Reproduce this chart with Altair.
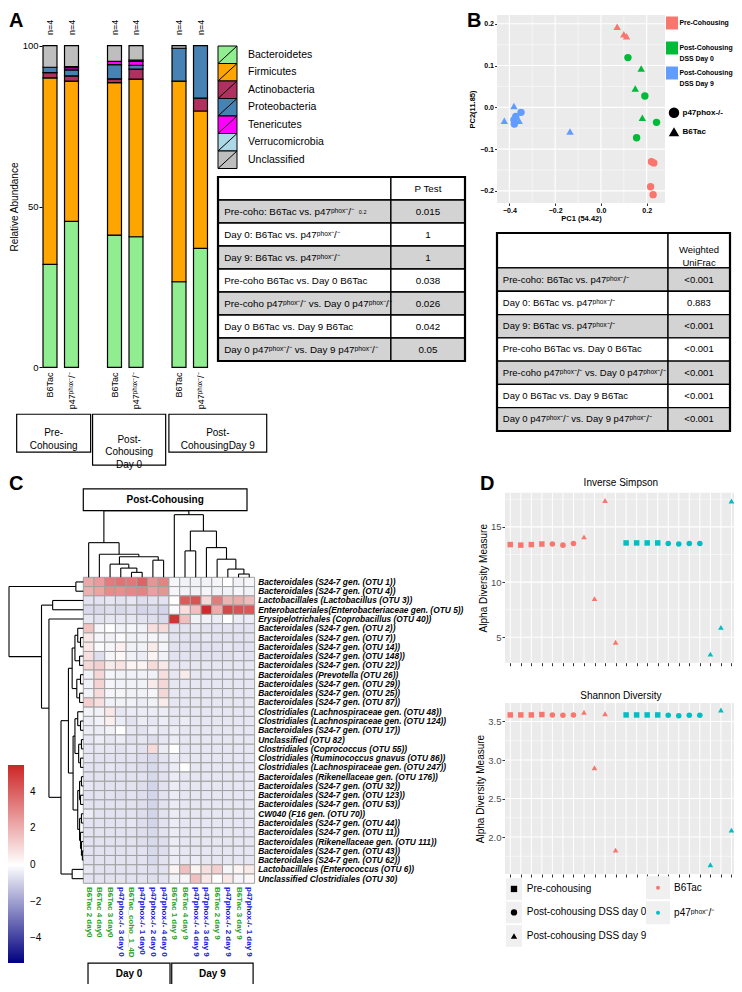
import altair as alt
import pandas as pd

FONT = "Liberation Sans"
W, H, M = 726, 976, 8

# ============================ DATA ============================
# ---- Panel A : relative abundance (%), one value per bar ----
phyla = ["Bacteroidetes", "Firmicutes", "Actinobacteria", "Proteobacteria",
         "Tenericutes", "Verrucomicrobia", "Unclassified"]
phyla_colors = ["#90EE90", "#FFA500", "#B03060", "#4682B4", "#FF00FF", "#ADD8E6", "#BEBEBE"]
bar_keys = ["pre_B6", "pre_p47", "d0_B6", "d0_p47", "d9_B6", "d9_p47"]
bar_names = ["B6Tac", "p47ᵖʰᵒˣ⁻/⁻", "B6Tac", "p47ᵖʰᵒˣ⁻/⁻", "B6Tac", "p47ᵖʰᵒˣ⁻/⁻"]
bar_n = ["n=4", "n=4", "n=4", "n=4", "n=4", "n=4"]
bacteroidetes = [32.0, 45.4, 41.1, 40.6, 26.6, 37.0]
firmicutes = [58.0, 43.6, 47.4, 49.0, 62.4, 42.7]
actinobacteria = [1.6, 1.6, 1.2, 3.1, 0.0, 4.0]
proteobacteria = [1.7, 1.9, 4.4, 1.2, 10.2, 16.3]
tenericutes = [0.0, 0.7, 1.0, 1.2, 0.0, 0.0]
verrucomicrobia = [0.0, 0.3, 0.0, 0.4, 0.0, 0.0]
unclassified = [6.7, 6.5, 4.9, 4.5, 0.8, 0.0]
group_labels = ["Pre-\nCohousing", "Post-\nCohousing\nDay 0", "Post-\nCohousingDay 9"]

comparisons = ["Pre-coho: B6Tac vs. p47ᵖʰᵒˣ⁻/⁻",
               "Day 0: B6Tac vs. p47ᵖʰᵒˣ⁻/⁻",
               "Day 9: B6Tac vs. p47ᵖʰᵒˣ⁻/⁻",
               "Pre-coho B6Tac vs. Day 0 B6Tac",
               "Pre-coho p47ᵖʰᵒˣ⁻/⁻ vs. Day 0 p47ᵖʰᵒˣ⁻/⁻",
               "Day 0 B6Tac vs. Day 9 B6Tac",
               "Day 0 p47ᵖʰᵒˣ⁻/⁻ vs. Day 9 p47ᵖʰᵒˣ⁻/⁻"]
p_test = ["0.015", "1", "1", "0.038", "0.026", "0.042", "0.05"]
weighted_unifrac = ["<0.001", "0.883", "<0.001", "<0.001", "<0.001", "<0.001", "<0.001"]

# ---- Panel B : PCoA ----
pc_groups = ["Pre-Cohousing", "Post-Cohousing|DSS Day 0", "Post-Cohousing|DSS Day 9"]
pc_group_colors = ["#F8766D", "#00BA38", "#619CFF"]
pc_genos = ["p47phox-/-", "B6Tac"]
pc1 = [0.071, 0.100, 0.112, 0.221, 0.231, 0.217, 0.228,
       0.118, 0.192, 0.243, 0.156, 0.176, 0.150, 0.181,
       -0.380, -0.422, -0.357, -0.135, -0.349, -0.380, -0.378, -0.372]
pc2 = [0.193, 0.175, 0.170, -0.130, -0.133, -0.190, -0.209,
       0.119, 0.027, -0.036, -0.073, 0.093, 0.045, -0.025,
       0.003, -0.032, -0.032, -0.058, -0.012, -0.030, -0.040, -0.022]
pc_group = [pc_groups[0]] * 7 + [pc_groups[1]] * 7 + [pc_groups[2]] * 8
pc_geno = (["B6Tac"] * 3 + ["p47phox-/-"] * 4 + ["p47phox-/-"] * 4 + ["B6Tac"] * 3
           + ["B6Tac"] * 4 + ["p47phox-/-"] * 4)

# ---- Panel C : heatmap ----
heat_cols = ["B6Tac 2 day0", "B6Tac 4 day0", "B6Tac 3 day0", "p47phox-/- 3 day 0",
             "B6Tac_coho_1_4D", "p47phox-/- 1 day0", "p47phox-/- 2 day 0", "p47phox-/- 4 day 0",
             "B6Tac 1 day 9", "B6Tac 4 day 9", "p47phox-/- 4 day 9", "p47phox-/- 3 day 9",
             "B6Tac 2 day 9", "p47phox-/- 2 day 9", "B6Tac 3 day 9", "p47phox-/- 1 day 9"]
heat_rows = ["Bacteroidales (S24-7 gen. (OTU 1))", "Bacteroidales (S24-7 gen. (OTU 4))",
             "Lactobacillales (Lactobacillus (OTU 3))",
             "Enterobacteriales(Enterobacteriaceae gen. (OTU 5))",
             "Erysipelotrichales (Coprobacillus (OTU 40))",
             "Bacteroidales (S24-7 gen. (OTU 2))", "Bacteroidales (S24-7 gen. (OTU 7))",
             "Bacteroidales (S24-7 gen. (OTU 14))", "Bacteroidales (S24-7 gen. (OTU 148))",
             "Bacteroidales (S24-7 gen. (OTU 22))", "Bacteroidales (Prevotella (OTU 26))",
             "Bacteroidales (S24-7 gen. (OTU 29))", "Bacteroidales (S24-7 gen. (OTU 25))",
             "Bacteroidales (S24-7 gen. (OTU 87))",
             "Clostridiales (Lachnospiraceae gen. (OTU 48))",
             "Clostridiales (Lachnospiraceae gen. (OTU 124))",
             "Bacteroidales (S24-7 gen. (OTU 17))", "Unclassified (OTU 82)",
             "Clostridiales (Coprococcus (OTU 55))",
             "Clostridiales (Ruminococcus gnavus (OTU 86))",
             "Clostridiales (Lachnospiraceae gen. (OTU 247))",
             "Bacteroidales (Rikenellaceae gen. (OTU 176))",
             "Bacteroidales (S24-7 gen. (OTU 32))", "Bacteroidales (S24-7 gen. (OTU 123))",
             "Bacteroidales (S24-7 gen. (OTU 53))", "CW040 (F16 gen. (OTU 70))",
             "Bacteroidales (S24-7 gen. (OTU 44))", "Bacteroidales (S24-7 gen. (OTU 11))",
             "Bacteroidales (Rikenellaceae gen. (OTU 111))",
             "Bacteroidales (S24-7 gen. (OTU 43))", "Bacteroidales (S24-7 gen. (OTU 62))",
             "Lactobacillales (Enterococcus (OTU 6))", "Unclassified Clostridiales (OTU 30)"]
heat_values = [
    [2.2, 2.5, 3.3, 3.5, 3.4, 3.9, 2.7, 3.1, -0.2, -0.3, -0.3, -0.3, -0.2, 0.0, -0.3, -0.2],
    [2.0, 2.3, 2.9, 2.8, 3.0, 3.1, 2.4, 2.7, -0.2, -0.3, -0.3, -0.2, -0.3, -0.3, -0.2, -0.3],
    [-0.6, -0.6, -0.5, -0.6, -0.5, -0.7, -0.6, -0.6, 0.0, 4.1, 4.3, 1.0, 3.3, 1.9, 2.1, 1.7],
    [-0.8, -0.8, -0.7, -0.8, -0.7, -0.9, -0.8, -0.9, -0.1, 0.8, 1.6, 5.3, 2.1, 4.6, 4.3, 4.2],
    [-0.5, -0.6, -0.5, -0.5, -0.5, -0.6, -0.7, -0.8, 5.1, 1.6, -0.3, -0.3, -0.4, 0.0, -0.4, -0.4],
    [1.5, -0.2, 0.0, -0.3, -0.2, -0.3, 0.8, 0.9, -0.6, -0.6, -0.5, -0.6, -0.6, -0.6, -0.6, -0.6],
    [0.6, -0.2, -0.3, -0.1, -0.3, -0.3, -0.2, -0.3, -0.6, -0.6, -0.6, -0.5, -0.6, -0.6, -0.6, -0.6],
    [0.6, -0.1, -0.2, 0.4, -0.3, -0.3, 0.5, -0.2, -0.6, -0.6, -0.6, -0.6, -0.6, -0.5, -0.6, -0.6],
    [0.8, -0.7, -0.2, 0.2, -0.3, -0.4, 0.3, -0.3, -0.6, -0.6, -0.6, -0.6, -0.6, -0.6, -0.5, -0.6],
    [1.0, 1.2, 0.5, 0.7, 0.3, 0.3, 0.9, 0.6, -0.5, -0.5, -0.5, -0.5, -0.5, -0.5, -0.5, -0.5],
    [-0.3, 1.0, -0.2, -0.3, -0.3, -0.3, -0.3, 0.8, -0.5, 0.5, -0.5, -0.5, -0.5, -0.5, -0.5, -0.5],
    [-0.3, 1.1, -0.2, -0.3, -0.3, -0.3, 0.5, 1.0, -0.5, -0.5, -0.5, -0.5, -0.5, -0.5, -0.5, -0.5],
    [-0.3, 0.9, -0.2, -0.2, -0.3, -0.3, -0.2, 1.0, -0.5, -0.5, -0.5, -0.5, -0.5, -0.5, -0.5, -0.5],
    [1.2, 0.8, -0.3, -0.3, -0.3, -0.4, -0.3, 0.5, -0.5, -0.5, -0.5, -0.5, -0.5, -0.5, -0.5, -0.5],
    [-0.3, -0.3, 0.6, -0.5, -0.4, -0.4, -0.4, -0.4, -0.5, -0.5, -0.5, -0.5, -0.5, -0.5, -0.5, -0.5],
    [-0.4, -0.3, 0.4, -0.4, -0.6, -0.4, -0.5, -0.4, -0.5, -0.4, -0.5, -0.5, -0.5, -0.5, -0.5, -0.5],
    [-0.4, -0.4, -0.3, 0.0, -0.5, -0.6, -0.4, -0.5, -0.4, -0.5, -0.5, -0.5, -0.5, -0.5, -0.5, -0.5],
    [-0.5, -0.4, -0.5, -0.4, -0.6, -0.5, -0.7, -0.5, -0.4, -0.5, -0.5, -0.5, -0.5, -0.5, -0.5, -0.5],
    [-0.5, -0.5, -0.5, -0.6, -0.5, -0.6, 0.9, -0.4, 0.0, -0.5, -0.5, -0.5, -0.5, -0.5, -0.5, -0.5],
    [-0.5, -0.6, -0.6, -0.6, -0.6, -0.7, -0.8, -0.6, -0.4, -0.5, -0.5, -0.5, -0.5, -0.5, -0.5, -0.5],
    [-0.6, -0.6, -0.5, -0.6, -0.6, -0.7, -0.8, -0.6, -0.4, 0.0, -0.5, -0.5, -0.5, -0.5, -0.5, -0.5],
    [-0.6, -0.6, -0.6, -0.6, -0.6, -0.6, -0.8, -0.6, -0.4, -0.5, -0.5, -0.5, -0.5, -0.5, -0.5, -0.5],
    [-0.5, -0.6, -0.6, -0.6, -0.6, -0.7, -0.9, -0.6, -0.4, -0.5, -0.5, -0.5, -0.5, -0.5, -0.5, -0.5],
    [-0.6, -0.6, -0.6, -0.7, -0.6, -0.7, -0.9, -0.6, -0.4, -0.5, -0.5, -0.5, -0.5, -0.5, -0.5, -0.5],
    [-0.6, -0.6, -0.6, -0.6, -0.6, -0.7, -0.9, -0.6, -0.4, -0.5, -0.5, -0.5, -0.5, -0.5, -0.5, -0.5],
    [-0.4, -0.6, -0.6, -0.6, -0.6, -0.7, -0.9, -0.6, -0.4, -0.5, -0.5, -0.5, -0.5, -0.5, -0.5, -0.5],
    [-0.6, -0.6, -0.6, -0.6, -0.5, -0.7, -0.9, -0.6, -0.4, -0.5, -0.5, -0.5, -0.5, -0.5, -0.5, -0.5],
    [-0.6, -0.6, -0.6, -0.6, -0.6, -0.7, -0.8, -0.6, -0.4, -0.5, -0.5, -0.5, -0.5, -0.5, -0.5, -0.5],
    [-0.6, -0.6, -0.6, -0.6, -0.6, -0.7, -0.8, -0.7, -0.4, -0.5, -0.5, -0.5, -0.5, -0.5, -0.5, -0.5],
    [-0.6, -0.6, -0.6, -0.6, -0.6, -0.6, -0.8, -0.7, -0.4, -0.5, -0.5, -0.5, -0.5, -0.5, -0.5, -0.5],
    [-0.6, -0.6, -0.6, -0.6, -0.6, -0.6, -0.8, -0.6, -0.4, -0.5, -0.4, -0.5, -0.5, -0.5, -0.5, -0.5],
    [-0.5, -0.6, -0.6, -0.6, -0.6, -0.6, -0.7, -0.6, 0.3, 1.6, 0.3, 0.8, 1.2, -0.2, 0.3, 0.5],
    [-0.6, -0.6, -0.6, -0.6, -0.6, -0.6, -0.7, -0.6, -0.3, -0.2, 1.6, 0.6, 0.0, 0.6, -0.2, 0.2],
]
# hierarchical clustering: (left, right, merge height)
_c_v = (4, 5, 5.0)
_c_w = (3, _c_v, 9.3)
_c_z = (2, _c_w, 13.3)
_c_67 = (6, 7, 17.3)
_c_y = (_c_z, _c_67, 20.7)
_c_x = (1, _c_y, 23.3)
_c_day0 = (0, _c_x, 35.0)
_c_e = (14, 15, 3.3)
_c_d = (13, _c_e, 8.3)
_c_c = (12, _c_d, 18.3)
_c_b = (11, _c_c, 30.0)
_c_a = (9, 10, 26.7)
_c_rest = (_c_a, _c_b, 46.7)
_c_day9 = (8, _c_rest, 63.3)
col_tree = (_c_day0, _c_day9, 67.3)

_t1 = ((5, (6, 7, 3), 6), (8, 9, 4), 9)
_t2 = ((10, 11, 3), (12, 13, 4), 7)
_t3 = (14, (15, 16, 3), 6)
_t4 = ((17, 18, 2), (19, 20, 3), 5)
_t5 = ((21, 22, 2), (23, 24, 3), 4)
_t6 = ((25, 26, 2), (27, (28, (29, 30, 1), 2), 3), 4)
_r_t = ((_t1, _t2, 12), ((_t3, _t4, 9), (_t5, _t6, 6), 11), 16)
_r_s = (_r_t, (31, 32, 12), 24)
_r_r = (4, _r_s, 37)
_r_q = ((2, 3, 33), _r_r, 45)
row_tree = ((0, 1, 8), _r_q, 80)

# ---- Panel D : alpha diversity ----
genos_d = ["B6Tac", "p47ᵖʰᵒˣ⁻/⁻"]
d_geno = [genos_d[0]] * 11 + [genos_d[1]] * 11
phases = ["Pre-cohousing", "Post-cohousing DSS day 0", "Post-cohousing DSS day 9"]
d_phase = ([phases[0]] * 4 + [phases[1]] * 3 + [phases[2]] * 4
           + [phases[0]] * 4 + [phases[1]] * 4 + [phases[2]] * 3)
inv_simpson = [13.4, 13.35, 13.4, 13.45, 13.45, 13.35, 13.5, 14.1, 8.5, 17.4, 4.55,
               13.55, 13.55, 13.55, 13.55, 13.5, 13.45, 13.5, 13.5, 3.48, 5.9, 17.35]
shannon = [3.585, 3.585, 3.585, 3.59, 3.585, 3.58, 3.585, 3.62, 2.9, 3.6, 1.83,
           3.585, 3.585, 3.585, 3.585, 3.58, 3.575, 3.58, 3.58, 1.64, 3.65, 2.09]

# ============================ HELPERS ============================
def P(v):
    return v - M


def lin(domain, lo, hi):
    return alt.Scale(domain=domain, range=[P(lo), P(hi)], nice=False, zero=False)


def band(domain, lo, hi, inner=0.0, outer=0.0):
    return alt.Scale(domain=domain, range=[P(lo), P(hi)], paddingInner=inner, paddingOuter=outer)


def texts(df, xs, ys, **mk):
    mk.setdefault("font", FONT)
    return alt.Chart(df).mark_text(**mk).encode(
        x=alt.X("x:Q", scale=xs, axis=None),
        y=alt.Y("y:Q", scale=ys, axis=None),
        text=alt.Text("t:N"))


def rects(df, xs, ys, **mk):
    return alt.Chart(df).mark_rect(**mk).encode(
        x=alt.X("x0:Q", scale=xs, axis=None), x2="x1:Q",
        y=alt.Y("y0:Q", scale=ys, axis=None), y2="y1:Q")


def segs(df, xs, ys, **mk):
    return alt.Chart(df).mark_rule(**mk).encode(
        x=alt.X("x0:Q", scale=xs, axis=None), x2="x1:Q",
        y=alt.Y("y0:Q", scale=ys, axis=None), y2="y1:Q")


def dendro(tree):
    out = []

    def rec(n):
        if isinstance(n, int):
            return n + 0.5, 0.0
        a, b, h = n
        pa, ha = rec(a)
        pb, hb = rec(b)
        out.append((pa, ha, pa, h))
        out.append((pb, hb, pb, h))
        out.append((pa, h, pb, h))
        return (pa + pb) / 2, h

    rec(tree)
    return pd.DataFrame(out, columns=["p0", "h0", "p1", "h1"])


def grid(xs, ys, xlo, xhi, ylo, yhi, xv, xw, yv, yw):
    v = pd.DataFrame({"x0": xv, "x1": xv, "y0": ylo, "y1": yhi, "w": xw})
    h = pd.DataFrame({"x0": xlo, "x1": xhi, "y0": yv, "y1": yv, "w": yw})
    df = pd.concat([v, h], ignore_index=True)
    return alt.Chart(df).mark_rule(color="white").encode(
        x=alt.X("x0:Q", scale=xs, axis=None), x2="x1:Q",
        y=alt.Y("y0:Q", scale=ys, axis=None), y2="y1:Q",
        strokeWidth=alt.StrokeWidth("w:Q", scale=None))


def table(labels, values, head, x_lo, x_hi, y_lo, y_hi, split, head_units, fs=9):
    n = len(labels)
    xs = lin([0, 1], x_lo, x_hi)
    ys = lin([0, head_units + n], y_lo, y_hi)
    cells = [dict(x0=0, x1=split, y0=0, y1=head_units, fill="white"),
             dict(x0=split, x1=1, y0=0, y1=head_units, fill="white")]
    for i in range(n):
        f = "#D3D3D3" if i % 2 == 0 else "white"
        y0 = head_units + i
        cells.append(dict(x0=0, x1=split, y0=y0, y1=y0 + 1, fill=f))
        cells.append(dict(x0=split, x1=1, y0=y0, y1=y0 + 1, fill=f))
    cdf = pd.DataFrame(cells)
    cell_layer = alt.Chart(cdf).mark_rect(stroke="black", strokeWidth=1.3).encode(
        x=alt.X("x0:Q", scale=xs, axis=None), x2="x1:Q",
        y=alt.Y("y0:Q", scale=ys, axis=None), y2="y1:Q",
        fill=alt.Fill("fill:N", scale=None))
    border = rects(pd.DataFrame([dict(x0=0, x1=1, y0=0, y1=head_units + n)]), xs, ys,
                   filled=False, stroke="black", strokeWidth=2.2)
    yy = [head_units + i + 0.5 for i in range(n)]
    lab = texts(pd.DataFrame({"x": 0.025, "y": yy, "t": labels}), xs, ys,
                align="left", baseline="middle", fontSize=fs)
    val = texts(pd.DataFrame({"x": (split + 1) / 2, "y": yy, "t": values}), xs, ys,
                align="center", baseline="middle", fontSize=fs)
    hd = texts(pd.DataFrame({"x": [(split + 1) / 2], "y": [head_units / 2], "t": [head]}), xs, ys,
               align="center", baseline="middle", fontSize=fs, lineBreak="\n",
               lineHeight=12.5)
    return [cell_layer, border, lab, val, hd], xs, ys


L = []

# ============================ PANEL A ============================
slot_domain = ["pre_B6", "pre_p47", "gap1", "d0_B6", "d0_p47", "gap2", "d9_B6", "d9_p47"]
slot_idx = [slot_domain.index(k) for k in bar_keys]
A_band = band(slot_domain, 39.25, 211.25, 0.35, 0.175)
A_y = lin([0, 100], 367.3, 45.7)
A_x = lin([0, 7], 50, 200.5)
phyla_scale = alt.Scale(domain=phyla, range=phyla_colors)
series = [bacteroidetes, firmicutes, actinobacteria, proteobacteria,
          tenericutes, verrucomicrobia, unclassified]
rows = []
for i, k in enumerate(bar_keys):
    base = 0.0
    for ph, s in zip(phyla, series):
        if s[i] > 0:
            rows.append({"bar": k, "phylum": ph, "lo": base, "hi": base + s[i]})
        base += s[i]
L.append(alt.Chart(pd.DataFrame(rows)).mark_bar(stroke="black", strokeWidth=1.2, opacity=1).encode(
    x=alt.X("bar:N", scale=A_band, axis=None),
    y=alt.Y("lo:Q", scale=A_y,
            axis=alt.Axis(orient="left", offset=-P(42), values=[0, 50, 100], domain=False,
                          grid=False, tickSize=3, tickColor="black", labelColor="black",
                          labelFontSize=9.5, labelPadding=1, title="Relative Abundance",
                          titleColor="black", titleFontSize=10, titleFontWeight="normal",
                          titlePadding=3)),
    y2="hi:Q",
    color=alt.Color("phylum:N", scale=phyla_scale, legend=None)))
L.append(texts(pd.DataFrame({"x": slot_idx, "y": 105.7, "t": bar_n}), A_x, A_y,
               angle=270, fontSize=9, align="center", baseline="middle"))
L.append(texts(pd.DataFrame({"x": slot_idx, "y": -1.6, "t": bar_names}), A_x, A_y,
               angle=270, fontSize=9, align="right", baseline="middle"))
gb = pd.DataFrame({"x0": [-1.55, 1.98, 5.53], "x1": [1.89, 5.38, 10.08],
                   "y0": [-14.6, -14.6, -14.6], "y1": [-26.4, -30.4, -26.4], "t": group_labels})
L.append(rects(gb, A_x, A_y, fill="white", stroke="black", strokeWidth=1.2))
gb["x"] = (gb.x0 + gb.x1) / 2
gb["y"] = (gb.y0 + gb.y1) / 2
L.append(texts(gb, A_x, A_y, lineBreak="\n", lineHeight=12.5, fontSize=10,
               align="center", baseline="middle"))

# legend of phyla (keys with a diagonal, as in the figure)
LA_x = lin([0, 1], 218, 237)
LA_y = lin([0, len(phyla)], 46, 168.5)
la = pd.DataFrame({"phylum": phyla, "x0": 0.0, "x1": 1.0,
                   "y0": [i for i in range(len(phyla))],
                   "y1": [i + 1 for i in range(len(phyla))]})
L.append(alt.Chart(la).mark_rect(stroke="black", strokeWidth=1).encode(
    x=alt.X("x0:Q", scale=LA_x, axis=None), x2="x1:Q",
    y=alt.Y("y0:Q", scale=LA_y, axis=None), y2="y1:Q",
    fill=alt.Fill("phylum:N", scale=phyla_scale, legend=None)))
L.append(segs(pd.DataFrame({"x0": 0.0, "x1": 1.0, "y0": la.y1, "y1": la.y0}), LA_x, LA_y,
              color="black", strokeWidth=1))
L.append(texts(pd.DataFrame({"x": 1.58, "y": la.y0 + 0.5, "t": phyla}), LA_x, LA_y,
               fontSize=10.5, align="left", baseline="middle"))

ta_layers, TA_x, TA_y = table(comparisons, p_test, "P Test", 218, 465, 177, 361, 0.7, 1, fs=9.8)
L.extend(ta_layers)
L.append(texts(pd.DataFrame({"x": [0.57], "y": [1.5], "t": ["0.2"]}), TA_x, TA_y,
               fontSize=5.5, align="left", baseline="middle"))

# ============================ PANEL B ============================
B_x = lin([-0.454, 0.28], 497, 665)
B_y = lin([-0.229, 0.221], 203, 15)
grp_scale = alt.Scale(domain=pc_groups, range=pc_group_colors)
geno_shape = alt.Scale(domain=pc_genos, range=["circle", "triangle-up"])
L.append(rects(pd.DataFrame([dict(x0=-0.454, x1=0.28, y0=-0.229, y1=0.221)]), B_x, B_y,
               fill="#EBEBEB"))
L.append(grid(B_x, B_y, -0.454, 0.28, -0.229, 0.221,
              [-0.4, -0.2, 0.0, 0.2, -0.3, -0.1, 0.1], [1.1, 1.1, 1.1, 1.1, 0.5, 0.5, 0.5],
              [-0.2, -0.1, 0.0, 0.1, 0.2, -0.15, -0.05, 0.05, 0.15],
              [1.1, 1.1, 1.1, 1.1, 1.1, 0.5, 0.5, 0.5, 0.5]))
pc_df = pd.DataFrame({"pc1": pc1, "pc2": pc2, "group": pc_group, "geno": pc_geno})
L.append(alt.Chart(pc_df).mark_point(filled=True, opacity=1, size=55).encode(
    x=alt.X("pc1:Q", scale=B_x,
            axis=alt.Axis(orient="bottom", offset=-(H - P(203)), values=[-0.4, -0.2, 0.0, 0.2],
                          format=".1f", domain=False, grid=False, tickSize=2.5,
                          tickColor="#333333", labelColor="black", labelFontSize=7,
                          labelFontWeight="bold", labelPadding=1, title="PC1 (54.42)",
                          titleFontSize=7.5, titleFontWeight="bold", titlePadding=1)),
    y=alt.Y("pc2:Q", scale=B_y,
            axis=alt.Axis(orient="left", offset=-P(497), values=[-0.2, -0.1, 0.0, 0.1, 0.2],
                          format=".1f", domain=False, grid=False, tickSize=2.5,
                          tickColor="#333333", labelColor="black", labelFontSize=7,
                          labelFontWeight="bold", labelPadding=1, title="PC2(11.85)",
                          titleFontSize=7.5, titleFontWeight="bold", titlePadding=3)),
    color=alt.Color("group:N", scale=grp_scale, legend=None),
    shape=alt.Shape("geno:N", scale=geno_shape, legend=None)))

# B legends
LB_x = lin([0, 1], 666, 678)
LB_y = lin([0, len(pc_groups)], 10.5, 85.5)
lb = pd.DataFrame({"group": pc_groups, "x0": 0.0, "x1": 1.0,
                   "y0": [i + 0.24 for i in range(3)], "y1": [i + 0.76 for i in range(3)]})
L.append(alt.Chart(lb).mark_rect().encode(
    x=alt.X("x0:Q", scale=LB_x, axis=None), x2="x1:Q",
    y=alt.Y("y0:Q", scale=LB_y, axis=None), y2="y1:Q",
    fill=alt.Fill("group:N", scale=grp_scale, legend=None)))
L.append(texts(pd.DataFrame({"x": 1.12, "y": [i + 0.5 for i in range(3)], "t": pc_groups}),
               LB_x, LB_y, fontSize=6.9, fontWeight="bold", align="left", baseline="middle",
               lineBreak="|", lineHeight=10.5))
LBS_x = lin([0, 1], 669, 679)
LBS_y = lin([0, len(pc_genos)], 103.2, 141.2)
lbs = pd.DataFrame({"geno": pc_genos, "x": 0.5, "y": [0.5, 1.5]})
L.append(alt.Chart(lbs).mark_point(filled=True, opacity=1, size=110, color="black").encode(
    x=alt.X("x:Q", scale=LBS_x, axis=None), y=alt.Y("y:Q", scale=LBS_y, axis=None),
    shape=alt.Shape("geno:N", scale=geno_shape, legend=None)))
L.append(texts(pd.DataFrame({"x": 1.35, "y": [0.5, 1.5], "t": pc_genos}), LBS_x, LBS_y,
               fontSize=8, fontWeight="bold", align="left", baseline="middle"))

tb_layers, TB_x, TB_y = table(comparisons, weighted_unifrac, "Weighted\nUniFrac",
                              497, 730, 233, 431, 0.734, 1.5, fs=9.5)
L.extend(tb_layers)

# ============================ PANEL C ============================
C_xb = band(heat_cols, 83.3, 254.6)
C_yb = band(heat_rows, 577.3, 883.3)
C_x = lin([0, 16], 83.3, 254.6)
C_y = lin([0, 33], 577.3, 883.3)
CT_y = lin([0, 67.3], 577.3, 510.7)
CL_x = lin([0, 80], 83.3, 9)

hm = pd.DataFrame([{"row": r, "col": c, "v": heat_values[i][j]}
                   for i, r in enumerate(heat_rows) for j, c in enumerate(heat_cols)])
L.append(alt.Chart(hm).mark_rect(stroke="#A0A0A0", strokeWidth=1).encode(
    x=alt.X("col:N", scale=C_xb, axis=None),
    y=alt.Y("row:N", scale=C_yb, axis=None),
    color=alt.Color("v:Q",
                    scale=alt.Scale(domain=[-5.35, 0, 5.46],
                                    range=["#000080", "#FFFFFF", "#CD2626"],
                                    interpolate="rgb"),
                    legend=alt.Legend(orient="none", legendX=0, legendY=P(765), title=None,
                                      direction="vertical", gradientLength=198,
                                      gradientThickness=16, values=[-4, -2, 0, 2, 4],
                                      labelFontSize=10, labelOffset=6, labelColor="black",
                                      gradientStrokeWidth=0))))
L.append(texts(pd.DataFrame({"x": 16.33, "y": [i + 0.5 for i in range(len(heat_rows))],
                             "t": heat_rows}), C_x, C_y,
               align="left", baseline="middle", fontSize=8.4, fontStyle="italic",
               fontWeight="bold"))
col_df = pd.DataFrame({"x": [j + 0.5 for j in range(len(heat_cols))], "y": 33.4, "t": heat_cols,
                       "c": ["#27A127" if c.startswith("B6Tac") else "#1414E0" for c in heat_cols]})
L.append(alt.Chart(col_df).mark_text(angle=90, align="left", baseline="middle", fontSize=8,
                                     fontWeight="bold", font=FONT).encode(
    x=alt.X("x:Q", scale=C_x, axis=None), y=alt.Y("y:Q", scale=C_y, axis=None),
    text="t:N", color=alt.Color("c:N", scale=None)))

td = dendro(col_tree)
L.append(segs(td.rename(columns={"p0": "x0", "p1": "x1", "h0": "y0", "h1": "y1"}), C_x, CT_y,
              color="black", strokeWidth=1.1))
ld = dendro(row_tree)
L.append(segs(ld.rename(columns={"h0": "x0", "h1": "x1", "p0": "y0", "p1": "y1"}), CL_x, C_y,
              color="black", strokeWidth=1.1))

pcb = pd.DataFrame([dict(x0=0, x1=15.29, y0=67.3, y1=89.3, x=7.65, y=78.3, t="Post-Cohousing")])
L.append(rects(pcb, C_x, CT_y, fill="white", stroke="black", strokeWidth=1.2))
L.append(texts(pcb, C_x, CT_y, fontSize=10, fontWeight="bold", align="center",
               baseline="middle"))
dayb = pd.DataFrame({"x0": [0.44, 8.26], "x1": [8.1, 15.86], "y0": [41.6, 41.6],
                     "y1": [44.0, 44.0], "t": ["Day 0", "Day 9"]})
L.append(rects(dayb, C_x, C_y, fill="white", stroke="black", strokeWidth=1.2))
dayb["x"] = (dayb.x0 + dayb.x1) / 2
dayb["y"] = (dayb.y0 + dayb.y1) / 2
L.append(texts(dayb, C_x, C_y, fontSize=10, fontWeight="bold", align="center",
               baseline="middle"))

# ============================ PANEL D ============================
D_x = lin([0.5, 22.5], 505, 736.7)
IS_y = lin([2.7, 18.1], 662.7, 492.7)
SH_y = lin([1.52, 3.74], 874, 703)
d_df = pd.DataFrame({"pos": list(range(1, 23)), "geno": d_geno, "phase": d_phase,
                     "inv": inv_simpson, "sh": shannon})
geno_scale = alt.Scale(domain=genos_d, range=["#F8766D", "#00BFC4"])
shape_scale = alt.Scale(domain=phases, range=["square", "circle", "triangle-up"])
size_scale = alt.Scale(domain=phases, range=[30, 32, 48])
positions = list(range(1, 23))


def d_panel(ys, lo, hi, field, yvals, ymaj, ymin, ylab_fmt, x_off, title, title_y):
    out = [rects(pd.DataFrame([dict(x0=0.5, x1=22.5, y0=lo, y1=hi)]), D_x, ys, fill="#EBEBEB"),
           grid(D_x, ys, 0.5, 22.5, lo, hi, positions, [1.0] * 22,
                ymaj + ymin, [1.1] * len(ymaj) + [0.5] * len(ymin))]
    out.append(alt.Chart(d_df).mark_point(filled=True, opacity=1).encode(
        x=alt.X("pos:Q", scale=D_x,
                axis=alt.Axis(orient="bottom", offset=x_off, values=positions, labels=False,
                              tickSize=3, tickColor="#333333", domain=False, grid=False,
                              title=None)),
        y=alt.Y(f"{field}:Q", scale=ys,
                axis=alt.Axis(orient="left", offset=-P(505), values=yvals, format=ylab_fmt,
                              tickSize=3, tickColor="#333333", domain=False, grid=False,
                              labelColor="#4D4D4D", labelFontSize=9.5, labelPadding=1,
                              title="Alpha Diversity Measure", titleColor="black",
                              titleFontSize=10, titleFontWeight="normal", titlePadding=2)),
        color=alt.Color("geno:N", scale=geno_scale, legend=None),
        shape=alt.Shape("phase:N", scale=shape_scale, legend=None),
        size=alt.Size("phase:N", scale=size_scale, legend=None)))
    out.append(texts(pd.DataFrame({"x": [11.5], "y": [title_y], "t": [title]}), D_x, ys,
                     fontSize=10, align="center", baseline="middle"))
    return out


L.extend(d_panel(IS_y, 2.7, 18.1, "inv", [5, 10, 15], [5, 10, 15], [7.5, 12.5, 17.5], "d",
                 -(H - P(662.7)), "Inverse Simpson", 19.0))
L.extend(d_panel(SH_y, 1.52, 3.74, "sh", [2.0, 2.5, 3.0, 3.5], [2.0, 2.5, 3.0, 3.5],
                 [1.75, 2.25, 2.75, 3.25], ".1f", -(H - P(874)), "Shannon Diversity", 3.835))

# D legends (ggplot style keys)
LDS_x = lin([0, 1], 506, 522)
LDS_y = lin([0, len(phases)], 877.2, 947.7)
L.append(rects(pd.DataFrame({"x0": 0.0, "x1": 1.0, "y0": [i + 0.04 for i in range(3)],
                             "y1": [i + 0.96 for i in range(3)]}), LDS_x, LDS_y,
               fill="#F0F0F0"))
L.append(alt.Chart(pd.DataFrame({"phase": phases, "x": 0.5, "y": [0.5, 1.5, 2.5]}))
         .mark_point(filled=True, opacity=1, color="black").encode(
    x=alt.X("x:Q", scale=LDS_x, axis=None), y=alt.Y("y:Q", scale=LDS_y, axis=None),
    shape=alt.Shape("phase:N", scale=shape_scale, legend=None),
    size=alt.Size("phase:N", scale=alt.Scale(domain=phases, range=[40, 40, 55]), legend=None)))
L.append(texts(pd.DataFrame({"x": 1.3, "y": [0.5, 1.5, 2.5], "t": phases}), LDS_x, LDS_y,
               fontSize=10, align="left", baseline="middle"))

LDC_x = lin([0, 1], 646, 670)
LDC_y = lin([0, len(genos_d)], 875.2, 925.2)
L.append(rects(pd.DataFrame({"x0": 0.0, "x1": 1.0, "y0": [0.04, 1.04], "y1": [0.96, 1.96]}),
               LDC_x, LDC_y, fill="#F0F0F0"))
L.append(alt.Chart(pd.DataFrame({"geno": genos_d, "x": 0.5, "y": [0.5, 1.5]}))
         .mark_point(filled=True, opacity=1, size=16, shape="circle").encode(
    x=alt.X("x:Q", scale=LDC_x, axis=None), y=alt.Y("y:Q", scale=LDC_y, axis=None),
    color=alt.Color("geno:N", scale=geno_scale, legend=None)))
L.append(texts(pd.DataFrame({"x": 1.17, "y": [0.5, 1.5], "t": genos_d}), LDC_x, LDC_y,
               fontSize=10, align="left", baseline="middle"))

# ============================ PANEL LETTERS ============================
PG_x = lin([0, 742], 0, 742)
PG_y = lin([0, 992], 0, 992)
L.append(texts(pd.DataFrame({"x": [9, 467, 9, 480], "y": [11, 11, 474, 474],
                             "t": ["A", "B", "C", "D"]}), PG_x, PG_y,
               fontSize=20, fontWeight="bold", align="left", baseline="top"))

chart = alt.layer(*L).resolve_scale(
    x="independent", y="independent", color="independent", shape="independent",
    size="independent", fill="independent", strokeWidth="independent"
).resolve_axis(x="independent", y="independent").resolve_legend(
    color="independent", shape="independent", size="independent", fill="independent"
).properties(
    width=W, height=H, padding=0, autosize=alt.AutoSizeParams(type="none")
).configure(font=FONT).configure_view(stroke=None)

chart.save("out.html", embed_options={"renderer": "svg", "actions": False})
